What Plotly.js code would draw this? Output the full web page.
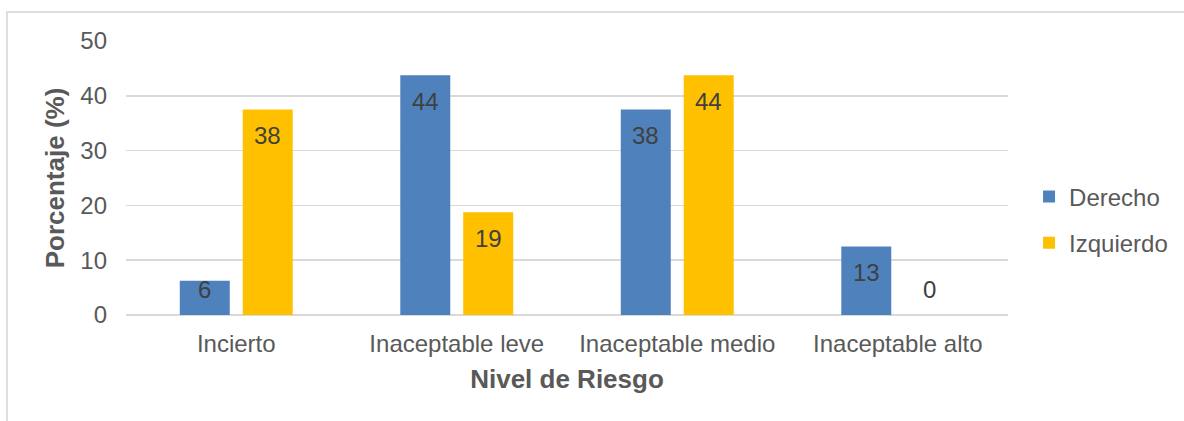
<!DOCTYPE html>
<html>
<head>
<meta charset="utf-8">
<script src="https://cdn.plot.ly/plotly-3.0.1.min.js"></script>
<style>
  html, body { margin: 0; padding: 0; background: #fff; overflow: hidden; }
  #wrap { position: relative; width: 1184px; height: 421px; }
  #chart { position: absolute; left: 0; top: 0; width: 1184px; height: 421px; }
  #frame { position: absolute; left: 6px; top: 11px; width: 1200px; height: 430px;
           border: 2px solid #dedede; box-sizing: border-box; pointer-events: none; }
</style>
</head>
<body>
<div id="wrap">
  <div id="chart"></div>
  <div id="frame"></div>
</div>
<script>
// Risk level categories and percentage per side
const categories = ["Incierto", "Inaceptable leve", "Inaceptable medio", "Inaceptable alto"];
const derecho = [6.25, 43.75, 37.5, 12.5];
const izquierdo = [37.5, 18.75, 43.75, 0];
const seriesNames = ["Derecho", "Izquierdo"];
const yTicks = [0, 10, 20, 30, 40, 50];

const FONT = '"Liberation Sans", Arial, sans-serif';
const BLUE = '#4F81BD';
const GOLD = '#FFC000';

const traces = [
  { type: 'bar', name: seriesNames[0], x: categories, y: derecho, legendgroup: 'd',
    marker: { color: BLUE }, hoverinfo: 'x+y' },
  { type: 'bar', name: seriesNames[1], x: categories, y: izquierdo, legendgroup: 'i',
    marker: { color: GOLD }, hoverinfo: 'x+y' }
];

// Value labels sit just inside the top of each bar; short bars keep them above the baseline
const LABEL_FLOOR = 9.4;
const annotations = [];
[[derecho, -31.5], [izquierdo, 31.5]].forEach(([vals, dx]) => {
  vals.forEach((v, i) => {
    annotations.push({
      x: categories[i], y: Math.max(v, LABEL_FLOOR), xref: 'x', yref: 'y',
      text: String(Math.round(v)), showarrow: false,
      xshift: dx, yshift: -26, yanchor: 'middle', xanchor: 'center',
      font: { family: FONT, size: 24, color: '#404040' }
    });
  });
});

const layout = {
  width: 1184, height: 421,
  margin: { l: 126, r: 175, t: 41, b: 106, pad: 0 },
  paper_bgcolor: '#fff', plot_bgcolor: '#fff',
  font: { family: FONT, color: '#595959', size: 24 },
  barmode: 'group', bargap: 0.429, bargroupgap: 0.206,
  showlegend: true,
  legend: {
    x: 1.0227, xanchor: 'left', y: 0.347, yanchor: 'middle',
    font: { family: FONT, size: 24, color: '#595959' },
    tracegroupgap: 12, itemclick: false, itemdoubleclick: false
  },
  xaxis: {
    type: 'category', showgrid: false, showline: false, zeroline: false,
    ticks: '', ticklabelstandoff: 12,
    tickfont: { family: FONT, size: 24, color: '#595959' },
    title: { text: 'Nivel de Riesgo', standoff: 13,
             font: { family: FONT, size: 26, color: '#595959', weight: 'bold' } }
  },
  yaxis: {
    range: [0, 50], tickvals: yTicks, ticktext: yTicks.map(String),
    showgrid: true, gridcolor: '#d9d9d9', gridwidth: 1.5,
    zeroline: true, zerolinecolor: '#d9d9d9', zerolinewidth: 1.5,
    showline: false, ticks: '', ticklabelstandoff: 18,
    tickfont: { family: FONT, size: 24, color: '#595959' },
    title: { text: 'Porcentaje (%)', standoff: 8,
             font: { family: FONT, size: 26, color: '#595959', weight: 'bold' } }
  },
  annotations: annotations
};

Plotly.newPlot('chart', traces, layout, { displayModeBar: false, staticPlot: true });
</script>
</body>
</html>
